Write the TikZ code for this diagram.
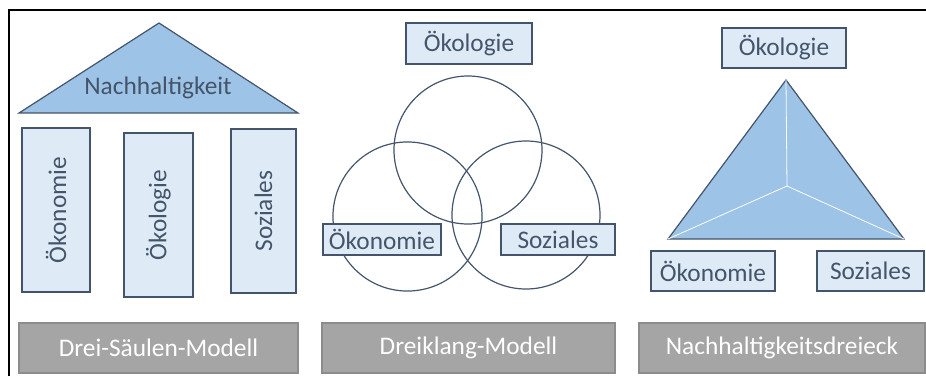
\documentclass[tikz,border=0pt]{standalone}
\usepackage{fontspec}
\setmainfont{Carlito}
\usetikzlibrary{positioning}

\definecolor{lightfill}{HTML}{DEEBF7}
\definecolor{darkline}{HTML}{44546A}
\definecolor{roofblue}{HTML}{9DC3E6}
\definecolor{greyfill}{HTML}{A5A5A5}
\definecolor{greyline}{HTML}{8C8C8C}

\tikzset{
  lbox/.style={draw=darkline, fill=lightfill, line width=0.9pt, text=darkline,
    inner sep=0pt, font=\fontsize{19}{23}\selectfont},
  pillar/.style={lbox, rotate=90, minimum width=123pt},
  gbox/.style={draw=greyline, fill=greyfill, line width=0.9pt, text=white,
    inner sep=0pt, minimum height=37.5pt, font=\fontsize{19}{23}\selectfont},
  ring/.style={draw=darkline, line width=0.9pt},
  roof/.style={draw=darkline, fill=roofblue, line width=0.9pt}
}

\begin{document}
\begin{tikzpicture}[x=0.75pt, y=-0.75pt]
        \useasboundingbox (0,0) rectangle (926,376);
        \draw[line width=1.5pt] (8.5,376) -- (8.5,9.5) -- (926,9.5);

        % Drei-Saeulen-Modell
        \draw[roof] (19,113) -- (159,23) -- (298,113) -- cycle;
        \node[text=darkline, font=\fontsize{19}{23}\selectfont] (nach) at (158,88) {Nachhaltigkeit};
        \node[pillar, minimum height=51pt] (oekon1) at (56,210) {Ökonomie};
        \node[pillar, minimum height=51.75pt] (oekol1) at (158.5,215) {Ökologie};
        \node[pillar, minimum height=48.75pt] (sozi1) at (263.5,211) {Soziales};
        \node[gbox, minimum width=209.25pt] (title1) at (158.5,348) {Drei-Säulen-Modell};

        % Dreiklang-Modell
        \node[lbox, minimum width=94.5pt, minimum height=30.75pt] (oekol2) at (469,43.5) {Ökologie};
        \draw[ring] (468,150) circle[radius=55.5pt];
        \draw[ring] (407.5,216.5) circle[radius=55.9pt];
        \draw[ring] (526,215) circle[radius=55.5pt];
        \node[lbox, minimum width=88.5pt, minimum height=23.25pt] (oekon2) at (382,239.5) {Ökonomie};
        \node[lbox, minimum width=85.5pt, minimum height=23.25pt] (sozi2) at (558,239.5) {Soziales};
        \node[gbox, minimum width=219.75pt] (title2) at (468.5,348) {Dreiklang-Modell};

        % Nachhaltigkeitsdreieck
        \node[lbox, minimum width=93pt, minimum height=30pt] (oekol3) at (784,48) {Ökologie};
        \coordinate (top) at (786,80);
        \coordinate (left) at (668,239);
        \coordinate (right) at (904,239);
        \coordinate (mid) at (787,186);
        \draw[roof] (top) -- (left) -- (right) -- cycle;
        \draw[white, line width=0.6pt] (top) -- (mid) (left) -- (mid) (right) -- (mid);
        \node[lbox, minimum width=93pt, minimum height=30pt] (oekon3) at (713,271) {Ökonomie};
        \node[lbox, minimum width=80.25pt, minimum height=30pt] (sozi3) at (870.5,271) {Soziales};
        \node[gbox, minimum width=214.5pt] (title3) at (782,348) {Nachhaltigkeitsdreieck};
    \end{tikzpicture}
\end{document}
